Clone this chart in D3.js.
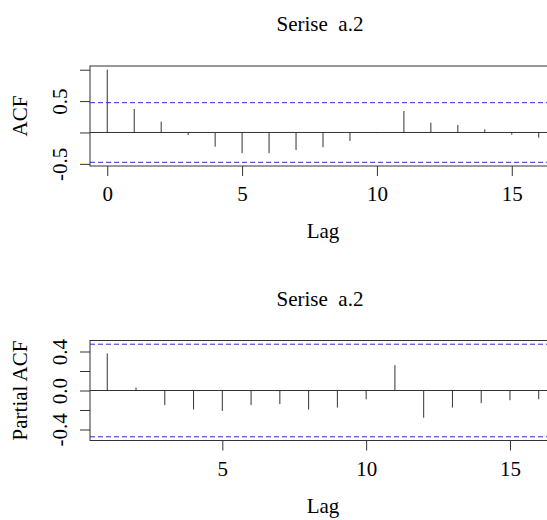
<!DOCTYPE html>
<html>
<head>
<meta charset="utf-8">
<script src="https://cdn.jsdelivr.net/npm/d3@7/dist/d3.min.js"></script>
<style>
  body { margin: 0; background: #fff; }
  svg { display: block; }
  text { font-family: "Liberation Serif", "Times New Roman", serif; fill: #000; }
</style>
</head>
<body>
<div class="acfplot"></div>
<script>
// values
var seriesTitle = "Serise  a.2";
var ci = 0.475;

var acfLags = [0, 1, 2, 3, 4, 5, 6, 7, 8, 9, 10, 11, 12, 13, 14, 15, 16];
var acfVals = [1, 0.374, 0.172, -0.04, -0.226, -0.33, -0.33, -0.28, -0.235, -0.135, -0.01, 0.342, 0.156, 0.12, 0.05, -0.035, -0.083];

var pacfLags = [1, 2, 3, 4, 5, 6, 7, 8, 9, 10, 11, 12, 13, 14, 15, 16];
var pacfVals = [0.38, 0.03, -0.15, -0.195, -0.21, -0.15, -0.14, -0.195, -0.175, -0.09, 0.26, -0.28, -0.175, -0.13, -0.10, -0.09];

var acfXTicks = [0, 5, 10, 15];
var acfYTicks = [-0.5, 0, 0.5, 1];
var acfYLabels = ["-0.5", "", "0.5", ""];
var pacfXTicks = [5, 10, 15];
var pacfYTicks = [-0.4, -0.2, 0, 0.2, 0.4];
var pacfYLabels = ["-0.4", "", "0.0", "", "0.4"];

var W = 547, H = 520;
var svg = d3.select("div.acfplot").append("svg")
    .attr("width", W)
    .attr("height", H);

function acfPanel(opt) {
  var left = 90, right = 556;
  var top = opt.top, bottom = opt.top + 100;

  var x = d3.scaleLinear().domain(opt.xdom).range([left, right]);
  var y = d3.scaleLinear().domain(opt.ydom).range([bottom, top]);

  var g = svg.append("g");

  // title (keep the double space)
  g.append("text")
      .attr("x", 320)
      .attr("y", top - 35)
      .attr("text-anchor", "middle")
      .style("font-size", "21px")
      .style("white-space", "pre")
      .text(seriesTitle);

  // zero line
  g.append("line")
      .attr("x1", left).attr("x2", right)
      .attr("y1", y(0)).attr("y2", y(0))
      .attr("stroke", "#333");

  // spikes
  g.selectAll("line.spike")
      .data(opt.vals)
    .enter().append("line")
      .attr("class", "spike")
      .attr("x1", function(d, i) { return x(opt.lags[i]); })
      .attr("x2", function(d, i) { return x(opt.lags[i]); })
      .attr("y1", y(0))
      .attr("y2", function(d) { return y(d); })
      .attr("stroke", "#333");

  // confidence band
  [ci, -ci].forEach(function(c) {
    g.append("line")
        .attr("x1", left).attr("x2", right)
        .attr("y1", y(c)).attr("y2", y(c))
        .attr("stroke", "#2a2ae0")
        .attr("stroke-dasharray", "5,3");
  });

  // x axis
  var xa = g.append("g")
      .attr("transform", "translate(0," + bottom + ")")
      .call(d3.axisBottom(x).tickValues(opt.xticks).tickSize(10).tickFormat(d3.format("d")));
  xa.select(".domain").remove();
  xa.selectAll("line").attr("stroke", "#333");
  xa.selectAll("text")
      .attr("y", 35).attr("dy", 0)
      .style("font-size", "21px")
      .style("font-family", "Liberation Serif");

  // y axis
  var ya = g.append("g")
      .attr("transform", "translate(" + left + ",0)")
      .call(d3.axisLeft(y).tickValues(opt.yticks).tickSize(10)
        .tickFormat(function(d, i) { return opt.ylabels[i]; }));
  ya.select(".domain").remove();
  ya.selectAll("line").attr("stroke", "#333");
  ya.selectAll("text")
      .attr("transform", "rotate(-90)")
      .attr("x", 0).attr("y", -23).attr("dy", 0)
      .attr("text-anchor", "middle")
      .style("font-size", "21px")
      .style("font-family", "Liberation Serif");

  // box
  g.append("rect")
      .attr("x", left).attr("y", top)
      .attr("width", right - left).attr("height", bottom - top)
      .attr("fill", "none")
      .attr("stroke", "#333");

  // axis titles
  g.append("text")
      .attr("x", 323)
      .attr("y", bottom + 72)
      .attr("text-anchor", "middle")
      .style("font-size", "21px")
      .text("Lag");

  g.append("text")
      .attr("transform", "translate(27," + ((top + bottom) / 2) + ") rotate(-90)")
      .attr("text-anchor", "middle")
      .style("font-size", "21px")
      .text(opt.ylab);
}

acfPanel({
  top: 66,
  lags: acfLags, vals: acfVals,
  xdom: [-0.64, 16.64], ydom: [-0.534, 1.059],
  xticks: acfXTicks, yticks: acfYTicks, ylabels: acfYLabels,
  ylab: "ACF"
});

acfPanel({
  top: 340.5,
  lags: pacfLags, vals: pacfVals,
  xdom: [0.4, 16.6], ydom: [-0.513, 0.513],
  xticks: pacfXTicks, yticks: pacfYTicks, ylabels: pacfYLabels,
  ylab: "Partial ACF"
});
</script>
</body>
</html>
